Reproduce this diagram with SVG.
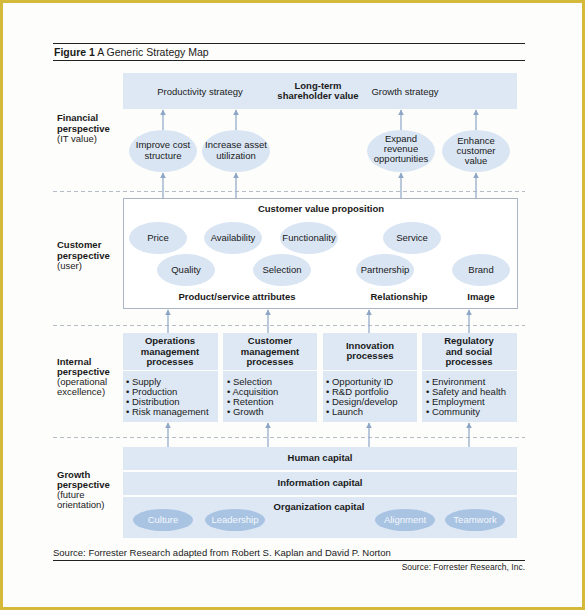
<svg xmlns="http://www.w3.org/2000/svg" width="585" height="610" viewBox="0 0 585 610">
<defs>
<marker id="ah" viewBox="0 0 10 10" refX="9" refY="5" markerWidth="6" markerHeight="6" orient="auto" markerUnits="userSpaceOnUse">
<path d="M0,0 L10,5 L0,10 z" fill="#8ea6c6"/>
</marker>
<style>
text{font-family:"Liberation Sans",Arial,sans-serif;font-size:9.5px;fill:#1a1a1a}
.b{font-weight:bold}
.c{text-anchor:middle}
.band{fill:#dde8f4}
.ell{fill:#d9e5f3}
.dell{fill:#a9c3e3}
.wt{fill:#f4f8fc}
.dash{stroke:#b4bcc8;stroke-width:1;stroke-dasharray:4,3;fill:none}
.rule{stroke:#222;stroke-width:1}
.conn line{stroke:#8ea6c6;stroke-width:1.2;marker-end:url(#ah)}
</style>
</defs>
<rect x="0" y="0" width="585" height="610" fill="#fdfdfb"/>
<rect x="1.5" y="1.5" width="582" height="607" fill="none" stroke="#d5b93b" stroke-width="3"/>

<g id="title">
<line class="rule" x1="53" y1="43.5" x2="525" y2="43.5"/>
<text x="54" y="56" style="font-size:10.5px"><tspan class="b" font-weight="bold">Figure 1</tspan> A Generic Strategy Map</text>
<line class="rule" x1="53" y1="60.5" x2="525" y2="60.5"/>
</g>

<g id="separators">
<line class="dash" x1="53" y1="191.5" x2="525" y2="191.5"/>
<line class="dash" x1="53" y1="325.5" x2="525" y2="325.5"/>
<line class="dash" x1="53" y1="437.5" x2="525" y2="437.5"/>
</g>

<g id="labels">
<text x="57" y="121" class="b">Financial</text>
<text x="57" y="132" class="b">perspective</text>
<text x="57" y="142">(IT value)</text>
<text x="57" y="248" class="b">Customer</text>
<text x="57" y="259" class="b">perspective</text>
<text x="57" y="269">(user)</text>
<text x="57" y="365" class="b">Internal</text>
<text x="57" y="375" class="b">perspective</text>
<text x="57" y="385">(operational</text>
<text x="57" y="395">excellence)</text>
<text x="57" y="478" class="b">Growth</text>
<text x="57" y="488" class="b">perspective</text>
<text x="57" y="498">(future</text>
<text x="57" y="508">orientation)</text>
</g>

<g id="financial-band">
<rect class="band" x="123" y="73" width="394" height="36"/>
<text x="200" y="95" class="c">Productivity strategy</text>
<text x="318" y="89" class="c b">Long-term</text>
<text x="318" y="99" class="c b">shareholder value</text>
<text x="405" y="95" class="c">Growth strategy</text>
</g>

<g id="improve-cost">
<ellipse class="ell" cx="163" cy="151" rx="34" ry="21"/>
<text x="163" y="148" class="c">Improve cost</text>
<text x="163" y="159" class="c">structure</text>
</g>
<g id="increase-asset">
<ellipse class="ell" cx="236" cy="151" rx="34" ry="21"/>
<text x="236" y="148" class="c">Increase asset</text>
<text x="236" y="159" class="c">utilization</text>
</g>
<g id="expand-revenue">
<ellipse class="ell" cx="401" cy="151" rx="34" ry="21"/>
<text x="401" y="142" class="c">Expand</text>
<text x="401" y="152" class="c">revenue</text>
<text x="401" y="162" class="c">opportunities</text>
</g>
<g id="enhance-customer">
<ellipse class="ell" cx="476" cy="151" rx="34" ry="21"/>
<text x="476" y="144" class="c">Enhance</text>
<text x="476" y="154" class="c">customer</text>
<text x="476" y="164" class="c">value</text>
</g>

<g id="customer-box">
<rect x="123.5" y="198.5" width="394" height="110" fill="#ffffff" stroke="#a9b5c5" stroke-width="1"/>
<text x="321" y="212" class="c b">Customer value proposition</text>
<text x="237" y="300" class="c b">Product/service attributes</text>
<text x="399" y="300" class="c b">Relationship</text>
<text x="481" y="300" class="c b">Image</text>
</g>
<g id="price"><ellipse class="ell" cx="158" cy="238" rx="29" ry="16"/><text x="158" y="241" class="c">Price</text></g>
<g id="availability"><ellipse class="ell" cx="233" cy="238" rx="29" ry="16"/><text x="233" y="241" class="c">Availability</text></g>
<g id="functionality"><ellipse class="ell" cx="309" cy="238" rx="29" ry="16"/><text x="309" y="241" class="c">Functionality</text></g>
<g id="service"><ellipse class="ell" cx="412" cy="238" rx="29" ry="16"/><text x="412" y="241" class="c">Service</text></g>
<g id="quality"><ellipse class="ell" cx="186" cy="270" rx="29" ry="16"/><text x="186" y="273" class="c">Quality</text></g>
<g id="selection"><ellipse class="ell" cx="282" cy="270" rx="29" ry="16"/><text x="282" y="273" class="c">Selection</text></g>
<g id="partnership"><ellipse class="ell" cx="385" cy="270" rx="29" ry="16"/><text x="385" y="273" class="c">Partnership</text></g>
<g id="brand"><ellipse class="ell" cx="481" cy="270" rx="29" ry="16"/><text x="481" y="273" class="c">Brand</text></g>

<g id="operations">
<rect class="band" x="123" y="333" width="95" height="37"/>
<rect class="band" x="123" y="371" width="95" height="51"/>
<text x="170" y="344" class="c b">Operations</text>
<text x="170" y="355" class="c b">management</text>
<text x="170" y="365" class="c b">processes</text>
<text x="126" y="385">• Supply</text>
<text x="126" y="395">• Production</text>
<text x="126" y="405">• Distribution</text>
<text x="126" y="415">• Risk management</text>
</g>
<g id="customer-mgmt">
<rect class="band" x="223" y="333" width="94" height="37"/>
<rect class="band" x="223" y="371" width="94" height="51"/>
<text x="270" y="344" class="c b">Customer</text>
<text x="270" y="355" class="c b">management</text>
<text x="270" y="365" class="c b">processes</text>
<text x="227" y="385">• Selection</text>
<text x="227" y="395">• Acquisition</text>
<text x="227" y="405">• Retention</text>
<text x="227" y="415">• Growth</text>
</g>
<g id="innovation">
<rect class="band" x="323" y="333" width="94" height="37"/>
<rect class="band" x="323" y="371" width="94" height="51"/>
<text x="370" y="349" class="c b">Innovation</text>
<text x="370" y="359" class="c b">processes</text>
<text x="326" y="385">• Opportunity ID</text>
<text x="326" y="395">• R&amp;D portfolio</text>
<text x="326" y="405">• Design/develop</text>
<text x="326" y="415">• Launch</text>
</g>
<g id="regulatory">
<rect class="band" x="422" y="333" width="95" height="37"/>
<rect class="band" x="422" y="371" width="95" height="51"/>
<text x="469" y="344" class="c b">Regulatory</text>
<text x="469" y="355" class="c b">and social</text>
<text x="469" y="365" class="c b">processes</text>
<text x="426" y="385">• Environment</text>
<text x="426" y="395">• Safety and health</text>
<text x="426" y="405">• Employment</text>
<text x="426" y="415">• Community</text>
</g>

<g id="human-capital">
<rect class="band" x="123" y="447" width="394" height="23"/>
<text x="320" y="461" class="c b">Human capital</text>
</g>
<g id="information-capital">
<rect class="band" x="123" y="472" width="394" height="23"/>
<text x="320" y="486" class="c b">Information capital</text>
</g>
<g id="organization-capital">
<rect class="band" x="123" y="497" width="394" height="41"/>
<text x="319" y="510" class="c b">Organization capital</text>
</g>
<g id="culture"><ellipse class="dell" cx="163" cy="520" rx="30" ry="11"/><text x="163" y="523" class="c wt">Culture</text></g>
<g id="leadership"><ellipse class="dell" cx="235" cy="520" rx="30" ry="11"/><text x="235" y="523" class="c wt">Leadership</text></g>
<g id="alignment"><ellipse class="dell" cx="405" cy="520" rx="30" ry="11"/><text x="405" y="523" class="c wt">Alignment</text></g>
<g id="teamwork"><ellipse class="dell" cx="475" cy="520" rx="30" ry="11"/><text x="475" y="523" class="c wt">Teamwork</text></g>

<g id="connectors" class="conn">
<line x1="163" y1="130" x2="163" y2="110"/>
<line x1="236" y1="130" x2="236" y2="110"/>
<line x1="401" y1="130" x2="401" y2="110"/>
<line x1="476" y1="130" x2="476" y2="110"/>
<line x1="163" y1="198" x2="163" y2="173"/>
<line x1="236" y1="198" x2="236" y2="173"/>
<line x1="401" y1="198" x2="401" y2="173"/>
<line x1="476" y1="198" x2="476" y2="173"/>
<line x1="168" y1="333" x2="168" y2="310"/>
<line x1="268" y1="333" x2="268" y2="310"/>
<line x1="369" y1="333" x2="369" y2="310"/>
<line x1="469" y1="333" x2="469" y2="310"/>
<line x1="168" y1="447" x2="168" y2="423"/>
<line x1="268" y1="447" x2="268" y2="423"/>
<line x1="369" y1="447" x2="369" y2="423"/>
<line x1="469" y1="447" x2="469" y2="423"/>
</g>

<g id="source">
<text x="53" y="556">Source:  Forrester Research adapted from Robert S. Kaplan and David P. Norton</text>
<line class="rule" x1="53" y1="560.5" x2="525" y2="560.5"/>
<text x="525" y="570" text-anchor="end" style="font-size:8.5px">Source: Forrester Research, Inc.</text>
</g>
</svg>
